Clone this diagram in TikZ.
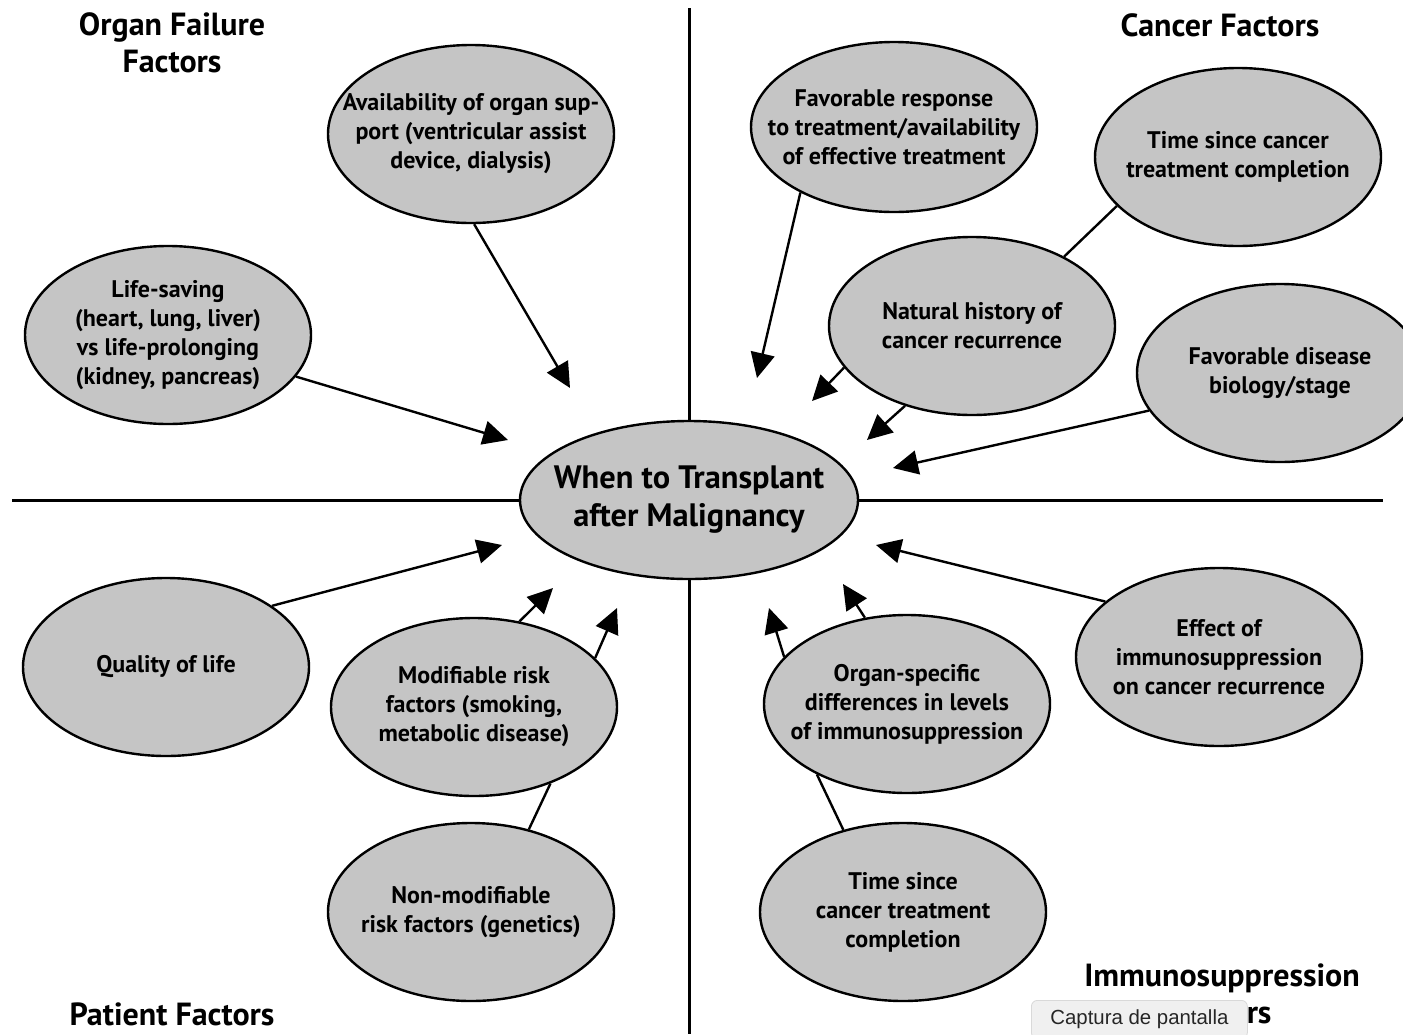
\documentclass[tikz,border=0pt]{standalone}
\usepackage{fontspec}
\setmainfont{PT Sans}
\newfontfamily\tipfont{Liberation Sans}
\usetikzlibrary{arrows.meta,shapes.geometric,positioning}

\definecolor{ovalgray}{RGB}{197,197,197}

\begin{document}
\begin{tikzpicture}[x=0.5pt, y=-0.5pt,
        factor/.style={ellipse, draw, line width=1.2pt, fill=ovalgray, align=center,
                inner xsep=-25pt, inner ysep=-10pt, minimum width=143pt, minimum height=89pt,
                font=\bfseries\fontsize{12}{14.5}\selectfont},
        heading/.style={align=center, font=\bfseries\fontsize{16}{18.5}\selectfont},
        link/.style={line width=1.2pt},
        push/.style={line width=1.2pt, -{Triangle[length=12.5pt, width=12pt]}}]
        \useasboundingbox (0, 0) rectangle (1403, 1034);
        % quadrants
        \draw[line width=1.5pt] (689, 8) -- (689, 1034);
        \draw[line width=1.5pt] (12, 500) -- (1383, 500);
        \node[factor, minimum width=169pt, minimum height=79pt,
                font=\bfseries\fontsize{16.2}{19}\selectfont] (when) at (689, 500)
                {When to Transplant\\after Malignancy};

        % headings
        \node[heading] (organhd) at (172, 43) {Organ Failure\\Factors};
        \node[heading] (cancerhd) at (1220, 25) {Cancer Factors};
        \node[heading] (patienthd) at (172, 1014) {Patient Factors};
        \node[heading] (immunohd) at (1222, 994) {Immunosuppression\\Factors};

        % organ failure factors
        \node[factor] (support) at (471, 134) {Availability of organ sup-\\port (ventricular assist\\device, dialysis)};
        \node[factor] (saving) at (168, 335) {Life-saving\\(heart, lung, liver)\\vs life-prolonging\\(kidney, pancreas)};

        % cancer factors
        \node[factor, minimum height=85pt] (response) at (894, 127) {Favorable response\\to treatment/availability\\of effective treatment};
        \node[factor] (timeA) at (1238, 157) {Time since cancer\\treatment completion};
        \node[factor] (history) at (972, 326) {Natural history of\\cancer recurrence};
        \node[factor] (biology) at (1280, 373) {Favorable disease\\biology/stage};

        % patient factors
        \node[factor] (quality) at (166, 667) {Quality of life};
        \node[factor] (modif) at (474, 707) {Modifiable risk\\factors (smoking,\\metabolic disease)};
        \node[factor] (nonmodif) at (471, 912) {Non-modifiable\\risk factors (genetics)};

        % immunosuppression factors
        \node[factor] (organspec) at (907, 704) {Organ-specific\\differences in levels\\of immunosuppression};
        \node[factor] (effect) at (1219, 657) {Effect of\\immunosuppression\\on cancer recurrence};
        \node[factor] (timeB) at (903, 912) {Time since\\cancer treatment\\completion};

        % arrow tips around the centre
        \coordinate (t1) at (570, 388);
        \coordinate (t2) at (508, 440);
        \coordinate (t3) at (757, 378);
        \coordinate (t4) at (812, 401);
        \coordinate (t5) at (867, 440);
        \coordinate (t6) at (893, 468);
        \coordinate (t7) at (502, 545);
        \coordinate (t8) at (553, 588);
        \coordinate (t9) at (617, 608);
        \coordinate (t10) at (769, 608);
        \coordinate (t11) at (843, 584);
        \coordinate (t12) at (876, 545);

        \draw[push] (support.-88) -- (t1);
        \draw[push] (saving.-18) -- (t2);
        \draw[push] (response.-145) -- (t3);
        \draw[link] (timeA.-158) -- (history.37);
        \draw[push] (history.198) -- (t4);
        \draw[push] (history.-130) -- (t5);
        \draw[push] (biology.196) -- (t6);
        \draw[push] (quality.30) -- (t7);
        \draw[push] (modif.62) -- (t8);
        \draw[push] (modif.22) -- (t9);
        \draw[link] (nonmodif.55) -- (modif.-45);
        \draw[push] (organspec.159) -- (t10);
        \draw[push] (organspec.116) -- (t11);
        \draw[link] (timeB.126) -- (organspec.-142);
        \draw[push] (effect.154) -- (t12);

        % screenshot tooltip
        \node[draw=black!15, fill=black!6, rounded corners=3pt, minimum width=108pt, minimum height=19pt,
                anchor=north west, font=\tipfont\fontsize{10.2}{12}\selectfont, text=black!85] (tooltip)
                at (1031, 1000) {Captura de pantalla};
\end{tikzpicture}
\end{document}
